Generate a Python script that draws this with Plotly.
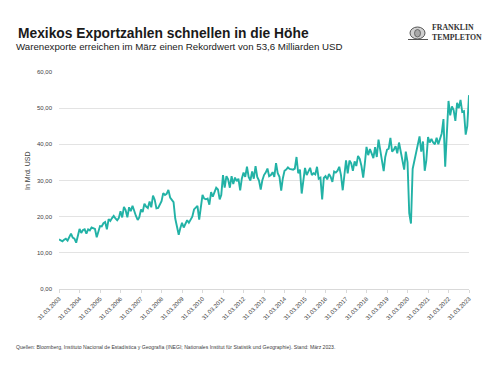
import pandas as pd
import plotly.graph_objects as go

# Monthly merchandise exports of Mexico, billion USD (Mar 2003 - Mar 2023)
start_month = "2003-03-31"
exports = [
    # 2003 Mar-Dec
    13.7, 13.5, 13.2, 13.6, 13.9, 13.4, 14.5, 15.3, 14.2, 13.9,
    # 2004
    12.8, 14.5, 16.6, 15.5, 16.3, 16.5, 15.3, 16.5, 16.2, 17.0, 16.8, 16.6,
    # 2005
    14.3, 16.0, 17.4, 17.3, 18.2, 18.5, 16.5, 19.3, 18.8, 19.6, 20.2, 19.5,
    # 2006
    19.0, 19.6, 21.5, 19.8, 22.7, 21.8, 19.8, 22.6, 21.5, 23.0, 21.3, 20.2,
    # 2007
    19.1, 19.8, 22.0, 21.3, 23.6, 22.8, 22.4, 24.2, 22.6, 25.8, 24.7, 22.3,
    # 2008
    22.4, 23.6, 24.3, 26.5, 26.0, 26.3, 27.4, 25.3, 24.8, 24.0, 19.5, 17.0,
    # 2009
    15.0, 16.8, 18.3, 17.0, 18.0, 19.0, 18.3, 19.3, 20.0, 22.0, 22.6, 23.0,
    # 2010
    19.2, 22.4, 26.0, 25.0, 24.8, 25.0, 23.3, 26.8, 25.5, 26.8, 28.0, 27.5,
    # 2011
    24.8, 26.0, 31.5, 28.0, 31.2, 30.3, 28.0, 31.2, 29.0, 30.8, 29.8, 30.5,
    # 2012
    27.3, 30.5, 32.2, 31.0, 33.8, 31.0, 30.0, 32.5, 30.5, 34.0, 31.0, 30.0,
    # 2013
    27.5, 30.0, 31.5, 32.2, 33.3, 31.2, 31.5, 32.3, 31.0, 34.8, 32.0, 31.0,
    # 2014
    27.2, 30.5, 32.7, 33.0, 33.6, 33.2, 33.0, 33.0, 33.3, 36.5, 32.0, 33.0,
    # 2015
    26.4, 30.5, 33.5, 31.5, 32.7, 33.5, 31.5, 32.0, 31.7, 33.8, 30.5, 30.8,
    # 2016
    24.8, 30.7, 31.2, 30.3, 31.8, 31.0, 29.6, 32.5, 32.2, 32.7, 33.8, 31.5,
    # 2017
    27.3, 31.2, 35.6, 32.0, 35.5, 34.8, 32.7, 35.3, 34.0, 36.8, 36.0, 34.0,
    # 2018
    30.8, 34.5, 39.3, 37.0, 38.7, 37.5, 36.2, 39.2, 36.5, 41.3, 38.5, 36.0,
    # 2019
    32.6, 36.5, 38.5, 38.8, 41.8, 38.0, 38.5, 39.5, 37.5, 40.5, 38.0, 36.5,
    # 2020
    33.0, 38.0, 35.0, 21.0, 18.1, 33.2, 35.7, 37.3, 40.0, 42.2, 38.0, 40.8,
    # 2021
    32.7, 35.5, 42.0, 40.5, 41.5, 40.5, 40.0, 41.8, 40.0, 41.3, 43.0, 47.0,
    # 2022
    33.8, 42.5, 52.0, 48.0, 50.5, 49.5, 46.5, 51.5, 50.0, 52.3, 49.0, 49.2,
    # 2023
    42.7, 45.0, 53.6,
]
dates = pd.date_range(start=start_month, periods=len(exports), freq="ME")

tick_years = list(range(2003, 2024))
tick_dates = [f"{y}-03-31" for y in tick_years]
tick_labels = [f"31.03.{y}" for y in tick_years]

y_ticks = [0, 10, 20, 30, 40, 50, 60]
y_tick_labels = ["0,00", "10,00", "20,00", "30,00", "40,00", "50,00", "60,00"]

title = "Mexikos Exportzahlen schnellen in die Höhe"
subtitle = "Warenexporte erreichen im März einen Rekordwert von 53,6 Milliarden USD"
y_title = "In Mrd. USD"
source = ("Quellen: Bloomberg, Instituto Nacional de Estadística y Geografía (INEGI; "
          "Nationales Institut für Statistik und Geographie). Stand: März 2023.")

# page body has an 8px margin; work in window pixel coords and shift
OFF = 8
W, H = 499 - 2 * OFF, 374 - 2 * OFF
L = 59 - OFF
R = W - (469 - OFF)
T = 72 - OFF
B = H - (289 - OFF)
PW, PH = W - L - R, H - T - B


def px(x):
    return (x - OFF - L) / PW


def py(y):
    return 1 - (y - OFF - T) / PH


fig = go.Figure()
fig.add_trace(go.Scatter(
    x=dates, y=exports, mode="lines",
    line=dict(color="#22b2a6", width=1.9),
    hoverinfo="skip", showlegend=False,
))

font = "Liberation Sans, Arial, sans-serif"

fig.update_layout(
    width=W, height=H,
    margin=dict(l=L, r=R, t=T, b=B, pad=0),
    paper_bgcolor="white", plot_bgcolor="white",
    font=dict(family=font, color="#404040"),
    xaxis=dict(
        range=[tick_dates[0], tick_dates[-1]],
        tickvals=tick_dates, ticktext=tick_labels,
        tickangle=-45, tickfont=dict(size=6, color="#404040"),
        showgrid=False, showline=True, linecolor="#d9d9d9", linewidth=1,
        ticks="outside", ticklen=3, tickcolor="#d9d9d9",
        zeroline=False, fixedrange=True,
    ),
    yaxis=dict(
        range=[0, 60],
        tickvals=y_ticks, ticktext=y_tick_labels,
        tickfont=dict(size=6, color="#404040"),
        showgrid=True, gridcolor="#e3e3e3", gridwidth=1,
        zeroline=False, showline=False, ticks="", ticklabelstandoff=6,
        fixedrange=True,
    ),
)

ann = []
ann.append(dict(text=f"<b>{title}</b>", x=px(16), y=py(33), xref="paper", yref="paper",
                xanchor="left", yanchor="middle", showarrow=False,
                font=dict(size=13.8, color="#1a1a1a", family=font)))
ann.append(dict(text=subtitle, x=px(14), y=py(46.5), xref="paper", yref="paper",
                xanchor="left", yanchor="middle", showarrow=False,
                font=dict(size=9.7, color="#1a1a1a", family=font)))
ann.append(dict(text=y_title, x=px(27), y=py(171), xref="paper", yref="paper",
                xanchor="center", yanchor="middle", showarrow=False, textangle=-90,
                font=dict(size=7, color="#404040", family=font)))
ann.append(dict(text=source, x=px(14), y=py(347), xref="paper", yref="paper",
                xanchor="left", yanchor="middle", showarrow=False,
                font=dict(size=5.1, color="#404040", family=font)))
logo_font = dict(size=7.8, color="#333333", family="Liberation Serif, serif")
ann.append(dict(text="<b>FRANKLIN</b>", x=px(430), y=py(27), xref="paper", yref="paper",
                xanchor="left", yanchor="middle", showarrow=False, font=logo_font))
ann.append(dict(text="<b>TEMPLETON</b>", x=px(430), y=py(37.2), xref="paper", yref="paper",
                xanchor="left", yanchor="middle", showarrow=False, font=logo_font))
fig.update_layout(annotations=ann)

fig.add_shape(type="circle", xref="paper", yref="paper",
              x0=px(410), x1=px(425), y0=py(39), y1=py(27),
              line=dict(color="#555555", width=1), fillcolor="#d0d0d0")
fig.add_shape(type="circle", xref="paper", yref="paper",
              x0=px(414.5), x1=px(420.5), y0=py(37), y1=py(29.5),
              line=dict(color="#555555", width=0.8), fillcolor="#a8a8a8")
fig.add_shape(type="line", xref="paper", yref="paper",
              x0=px(408), x1=px(428), y0=py(39.5), y1=py(39.5),
              line=dict(color="#555555", width=1))

fig.write_html("out.html")
